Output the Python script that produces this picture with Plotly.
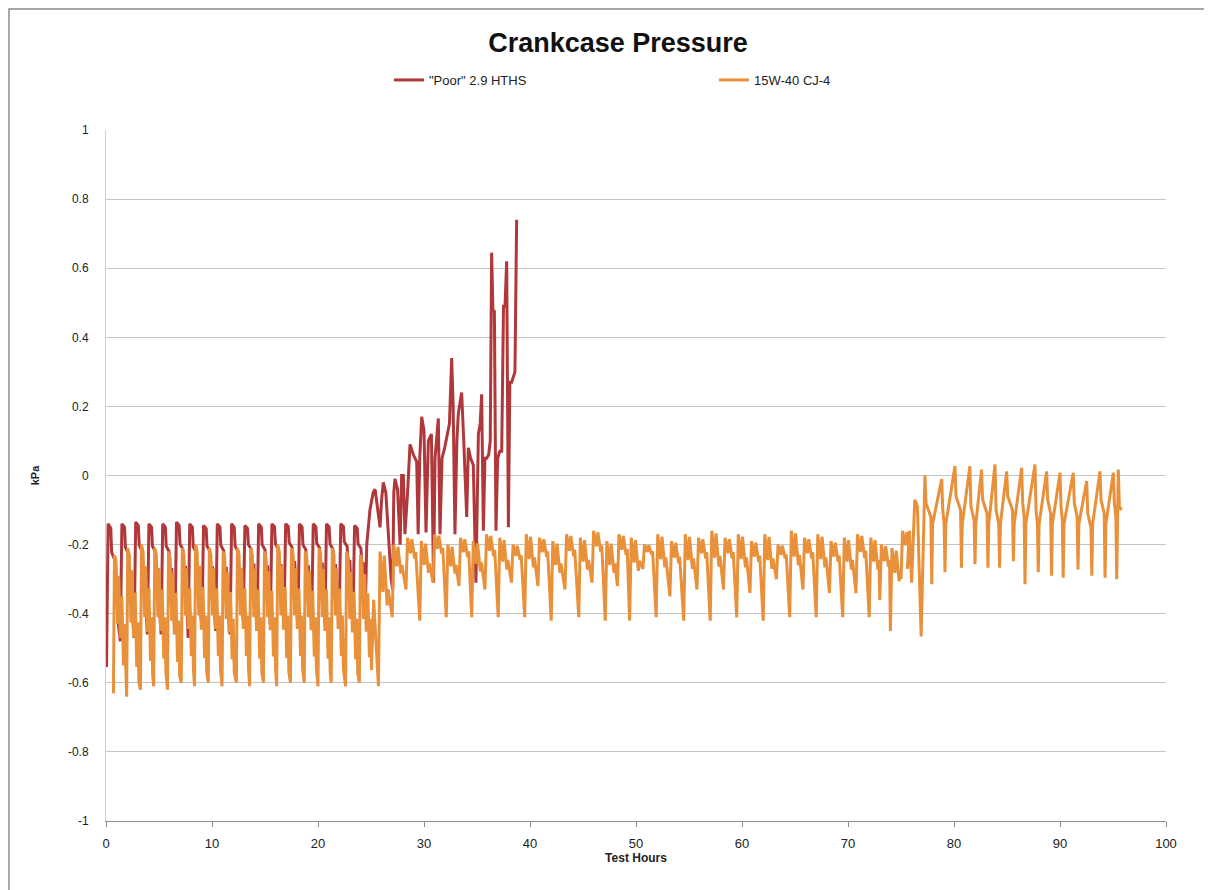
import plotly.graph_objects as go

# ---------------- data ----------------
# "Poor" 2.9 HTHS, first regime: per-cycle peak hour, peak and trough (kPa)
red_cycle_h = [0.2, 1.5, 2.8, 4.05, 5.35, 6.65, 7.9, 9.2, 10.5, 11.85, 13.1,
               14.4, 15.65, 16.95, 18.25, 19.55, 20.8, 22.15, 23.45]
red_cycle_peak = [-0.14, -0.14, -0.135, -0.14, -0.14, -0.135, -0.14, -0.145, -0.14,
                  -0.14, -0.145, -0.14, -0.14, -0.14, -0.14, -0.14, -0.14, -0.14, -0.145]
red_cycle_trough = [-0.55, -0.48, -0.47, -0.46, -0.46, -0.45, -0.47, -0.44, -0.45,
                    -0.46, -0.42, -0.44, -0.43, -0.41, -0.44, -0.42, -0.43, -0.40, -0.41]
# "Poor" 2.9 HTHS, rising regime (hours / kPa)
red_late_h = [24.45, 24.6, 24.9, 25.2, 25.38, 25.6, 25.85, 26.0, 26.16, 26.4, 26.64,
              26.9, 27.05, 27.15, 27.26, 27.5, 27.75, 27.89, 28.05, 28.2, 28.45, 28.68,
              29.0, 29.31, 29.45, 29.6, 29.78, 30.0, 30.19, 30.3, 30.41, 30.7, 30.9,
              31.04, 31.2, 31.35, 31.51, 31.7, 31.95, 32.14, 32.4, 32.61, 32.75, 32.92,
              33.1, 33.24, 33.55, 33.75, 34.03, 34.18, 34.4, 34.65, 34.9, 35.13, 35.3,
              35.44, 35.6, 35.75, 35.91, 36.1, 36.25, 36.38, 36.5, 36.64, 36.79, 36.95,
              37.15, 37.33, 37.5, 37.64, 37.8, 37.96, 38.1, 38.27, 38.45, 38.58, 38.74]
red_late_kpa = [-0.40, -0.20, -0.10, -0.05, -0.04, -0.09, -0.15, -0.07, -0.02, -0.05, -0.18,
                -0.30, -0.33, -0.05, -0.01, -0.04, -0.20, 0.00, 0.00, -0.17, -0.05, 0.09,
                0.06, 0.04, -0.17, 0.05, 0.17, 0.13, -0.165, 0.00, 0.10, 0.12, -0.31,
                0.05, 0.12, 0.165, -0.17, 0.05, 0.08, 0.11, 0.15, 0.34, 0.20, -0.17,
                0.10, 0.18, 0.24, 0.10, -0.12, 0.08, 0.05, 0.03, -0.31, 0.12, 0.15,
                0.235, -0.16, 0.05, 0.05, 0.06, 0.10, 0.645, 0.48, 0.475, -0.16, 0.05,
                0.07, 0.07, 0.49, 0.49, 0.62, -0.15, 0.27, 0.27, 0.29, 0.30, 0.74]

# 15W-40 CJ-4, first regime: per-cycle peak hour, peak and trough
org_cycle_h = [0.8, 2.05, 3.35, 4.6, 5.9, 7.2, 8.45, 9.75, 11.05, 12.4, 13.65,
               14.95, 16.2, 17.5, 18.8, 20.1, 21.35, 22.7, 24.0]
org_cycle_peak = [-0.23, -0.21, -0.20, -0.21, -0.22, -0.21, -0.20, -0.21, -0.22, -0.21,
                  -0.21, -0.22, -0.20, -0.21, -0.22, -0.21, -0.21, -0.22, -0.23]
org_cycle_trough = [-0.63, -0.64, -0.62, -0.61, -0.62, -0.60, -0.61, -0.60, -0.61, -0.60,
                    -0.61, -0.60, -0.61, -0.60, -0.60, -0.61, -0.60, -0.61, -0.60]
org_link_h = [25.25]
org_link_kpa = [-0.36]
# 15W-40 CJ-4, middle regime: dip hour, dip value, following peak value
org_dip_h = [25.7, 27.0, 28.3, 29.6, 30.85, 32.1, 33.3, 34.5, 35.75, 37.0, 38.25, 39.5,
             40.75, 42.0, 43.3, 44.6, 45.85, 47.1, 48.25, 49.4, 50.65, 51.9, 53.2, 54.5,
             55.75, 57.0, 58.25, 59.5, 60.75, 62.0, 63.25, 64.5, 65.75, 67.0, 68.25,
             69.5, 70.75, 72.0, 73.0, 74.0, 75.0]
org_dip_kpa = [-0.61, -0.41, -0.33, -0.42, -0.31, -0.41, -0.32, -0.41, -0.33, -0.41, -0.31,
               -0.41, -0.32, -0.42, -0.33, -0.41, -0.31, -0.42, -0.32, -0.42, -0.27, -0.41,
               -0.35, -0.42, -0.33, -0.42, -0.33, -0.41, -0.34, -0.42, -0.30, -0.41, -0.33,
               -0.41, -0.34, -0.41, -0.34, -0.41, -0.36, -0.45, -0.30]
org_dip_peak = [-0.22, -0.20, -0.18, -0.19, -0.17, -0.20, -0.18, -0.19, -0.17, -0.18, -0.20,
                -0.17, -0.18, -0.19, -0.17, -0.18, -0.16, -0.19, -0.17, -0.18, -0.20, -0.17,
                -0.19, -0.17, -0.18, -0.16, -0.18, -0.17, -0.19, -0.17, -0.20, -0.16, -0.18,
                -0.17, -0.19, -0.18, -0.17, -0.18, -0.20, -0.21, -0.16]
# transition into the last regime
org_step_h = [75.6, 75.8, 76.0, 76.3, 76.55, 76.9]
org_step_kpa = [-0.27, -0.16, -0.31, -0.07, -0.09, -0.466]
# 15W-40 CJ-4, last regime
org_late_peak_h = [77.26, 78.84, 80.09, 81.5, 82.6, 83.87, 84.97, 86.38, 87.64, 88.74,
                   90.0, 91.25, 92.52, 93.77, 95.03, 95.5]
org_late_peak = [0.0, -0.01, 0.027, 0.027, 0.017, 0.032, 0.012, 0.022, 0.032, 0.012,
                 0.008, 0.008, -0.016, 0.012, 0.008, 0.017]
org_late_shoulder = [-0.08, -0.10, -0.06, -0.09, -0.07, -0.10, -0.06, -0.08, -0.10, -0.07,
                     -0.09, -0.08, -0.11, -0.07, -0.08, -0.09]
org_late_trough_h = [77.9, 79.15, 80.7, 81.98, 83.2, 84.3, 85.6, 86.7, 87.95, 89.2, 90.3,
                     91.7, 93.0, 94.25, 95.35]
org_late_trough = [-0.315, -0.28, -0.267, -0.257, -0.267, -0.267, -0.248, -0.315, -0.28,
                   -0.29, -0.296, -0.272, -0.29, -0.296, -0.30]
org_end_h = [95.8]
org_end_kpa = [-0.10]

x_ticks = [0, 10, 20, 30, 40, 50, 60, 70, 80, 90, 100]
y_ticks = [1, 0.8, 0.6, 0.4, 0.2, 0, -0.2, -0.4, -0.6, -0.8, -1]
y_tick_text = ["1", "0.8", "0.6", "0.4", "0.2", "0", "-0.2", "-0.4", "-0.6", "-0.8", "-1"]

# ---------------- build the polylines ----------------
RED_SHAPE = [(-0.15, 0.0), (0.0, 1.0), (0.25, 0.97), (0.33, 0.8), (0.6, 0.75),
             (0.75, 0.45), (0.85, 0.6), (0.95, 0.3)]
ORG_SHAPE = [(-0.1, 0.0), (0.0, 1.0), (0.15, 0.95), (0.3, 0.5), (0.4, 0.85),
             (0.55, 0.4), (0.7, 0.7), (0.85, 0.2), (0.95, 0.5), (1.05, 0.1)]
DIP_SHAPE = [(0.0, 0.0), (0.15, 1.0), (0.3, 0.85), (0.42, 0.7), (0.55, 0.97),
             (0.7, 0.8), (0.82, 0.6), (0.92, 0.72)]


def cycles(hours, peaks, troughs, shape):
    xs, ys = [], []
    for h, p, t in zip(hours, peaks, troughs):
        for dx, frac in shape:
            xs.append(h + dx)
            ys.append(t + frac * (p - t))
    return xs, ys


rx, ry = cycles(red_cycle_h, red_cycle_peak, red_cycle_trough, RED_SHAPE)
red_x = [0.0] + rx + red_late_h
red_y = [red_cycle_trough[0]] + ry + red_late_kpa

ox1, oy1 = cycles(org_cycle_h, org_cycle_peak, org_cycle_trough, ORG_SHAPE)
ox2, oy2 = cycles(org_dip_h, org_dip_peak, org_dip_kpa, DIP_SHAPE)
ox3, oy3 = [], []
n_tr = len(org_late_trough_h)
for i, (ph, pv, sv) in enumerate(zip(org_late_peak_h, org_late_peak, org_late_shoulder)):
    ox3 += [ph, ph + 0.1]
    oy3 += [pv, sv]
    if i < n_tr:
        th = org_late_trough_h[i]
        ox3 += [th - 0.08, th, th + 0.08]
        oy3 += [sv - 0.04, org_late_trough[i], -0.14]
org_x = ox1 + org_link_h + ox2 + org_step_h + ox3 + org_end_h
org_y = oy1 + org_link_kpa + oy2 + org_step_kpa + oy3 + org_end_kpa

# ---------------- figure ----------------
RED = "#B0383A"
ORANGE = "#E8903A"
FONT = "Liberation Sans Narrow, Arial Narrow, Arial, sans-serif"

fig = go.Figure()
fig.add_trace(go.Scatter(x=red_x, y=red_y, mode="lines", name='"Poor" 2.9 HTHS',
                         line=dict(color=RED, width=3)))
fig.add_trace(go.Scatter(x=org_x, y=org_y, mode="lines", name="15W-40 CJ-4",
                         line=dict(color=ORANGE, width=3)))

L, R, T, B = 98, 54, 122, 77
PW, PH = 1212 - L - R, 890 - T - B
fig.update_layout(
    width=1212, height=890,
    margin=dict(l=L, r=R, t=T, b=B),
    paper_bgcolor="white", plot_bgcolor="white",
    font=dict(family=FONT, size=12, color="#222"),
    title=dict(text="<b>Crankcase Pressure</b>", x=0.5 + (8 - 4) / 1212, xanchor="center",
               y=1 - 35 / 890, yanchor="middle",
               font=dict(family=FONT, size=27, color="#111")),
    showlegend=True,
    legend=dict(orientation="h", x=(381 - L) / PW, xanchor="left",
                y=1 + (T - 72) / PH, yanchor="middle",
                entrywidth=280, entrywidthmode="pixels",
                font=dict(family=FONT, size=13, color="#222"),
                bgcolor="rgba(0,0,0,0)", traceorder="normal"),
    xaxis=dict(range=[0, 100], tickvals=x_ticks, ticktext=[str(v) for v in x_ticks],
               showgrid=False, zeroline=False, showline=True, linecolor="#8c8c8c",
               linewidth=1, ticks="outside", ticklen=5, tickcolor="#8c8c8c",
               ticklabelstandoff=5,
               tickfont=dict(family=FONT, size=13, color="#222"),
               title=dict(text="<b>Test Hours</b>", standoff=4,
                          font=dict(family=FONT, size=12, color="#222"))),
    yaxis=dict(range=[-1, 1], tickvals=y_ticks, ticktext=y_tick_text,
               showgrid=True, gridcolor="#c4c4c4", gridwidth=1, zeroline=False,
               showline=True, linecolor="#d0d0d0", linewidth=1,
               ticks="", ticklabelstandoff=14,
               tickfont=dict(family=FONT, size=12, color="#222"),
               title=dict(text="<b>kPa</b>", standoff=26,
                          font=dict(family=FONT, size=11, color="#222"))),
)

# outer chart frame (left and top edges visible in the picture)
fig.add_shape(type="rect", xref="paper", yref="paper",
              x0=(1 - L) / PW, x1=(1230 - L) / PW,
              y0=-(900 - (T + PH)) / PH, y1=1 + (T - 1) / PH,
              line=dict(color="#8a8a8a", width=1.5), fillcolor="rgba(0,0,0,0)",
              layer="below")

fig.write_html("out.html")
